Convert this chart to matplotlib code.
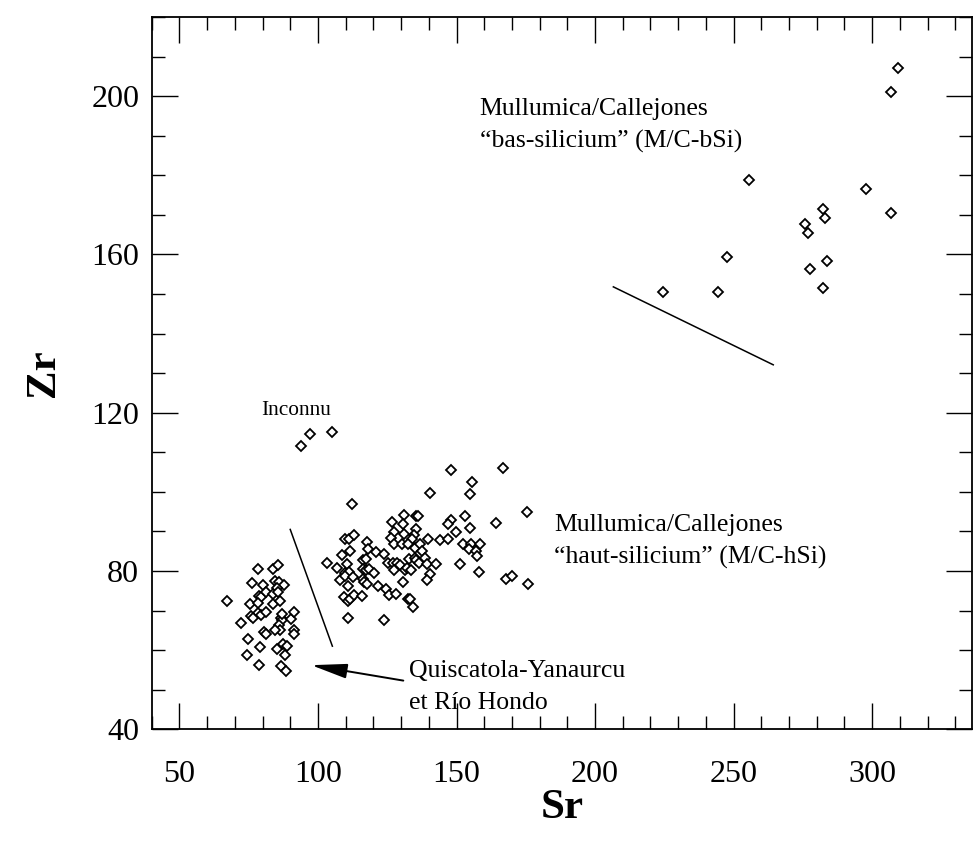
import matplotlib.pyplot as plt
from matplotlib.ticker import MultipleLocator

plt.rcParams['font.family'] = ['Liberation Serif', 'DejaVu Serif']

# Quiscatola-Yanaurcu et Rio Hondo
qy_sr = [78.4, 83.9, 85.5, 76.2, 80.2, 84.5, 86.0, 87.9, 85.1, 78.8, 79.5, 81.1,
         83.9, 85.5, 67.2, 75.3, 78.3, 83.6, 86.4, 78.5, 79.3, 81.1, 76.0, 76.4,
         86.5, 86.9, 87.0, 90.3, 91.4, 72.4, 85.8, 86.4, 84.6, 80.5, 81.1, 91.4,
         91.4, 74.9, 79.1, 87.4, 89.0, 85.3, 74.4, 88.0, 78.6, 86.7, 88.4]
qy_zr = [80.6, 80.6, 81.4, 77.0, 76.4, 77.4, 77.1, 76.4, 75.7, 73.8, 73.4, 74.7,
         74.3, 74.6, 72.3, 71.6, 71.9, 71.6, 72.4, 69.4, 68.8, 69.7, 68.5, 68.0,
         68.1, 67.7, 69.2, 67.9, 69.7, 66.9, 66.3, 65.2, 65.0, 64.6, 64.0, 65.2,
         64.2, 62.9, 60.8, 61.5, 61.1, 60.3, 58.8, 58.8, 56.2, 55.9, 54.8]

# Mullumica/Callejones haut-silicium
hsi_sr = [148.0, 166.8, 155.6, 140.3, 154.7, 112.4, 175.4, 164.4, 131.2, 135.4,
          136.2, 126.8, 130.7, 148.1, 147.0, 153.2, 154.7, 149.9, 135.4, 127.4,
          131.2, 134.8, 126.4, 134.1, 139.8, 144.0, 147.0, 109.8, 111.3, 112.9,
          111.4, 108.6, 117.7, 118.2, 121.1, 124.0, 127.6, 130.2, 132.6, 135.0,
          136.8, 137.4, 152.2, 155.2, 158.6, 154.6, 157.0, 157.3, 103.3, 106.9,
          110.5, 116.3, 117.5, 125.3, 127.0, 128.6, 129.7, 133.0, 134.9, 135.4,
          136.3, 138.7, 139.2, 142.6, 151.4, 109.6, 111.2, 108.0, 109.6, 112.5,
          116.3, 117.5, 118.3, 120.1, 127.4, 131.5, 132.0, 133.5, 140.3, 158.1,
          111.0, 116.3, 116.5, 117.7, 121.6, 124.4, 125.8, 128.2, 130.7, 139.3,
          167.7, 170.1, 175.9, 109.4, 111.0, 111.4, 112.9, 115.8, 132.5, 133.1,
          134.2, 111.0, 124.0]
hsi_zr = [105.6, 105.9, 102.5, 99.8, 99.5, 96.9, 94.9, 92.2, 94.2, 93.8,
          93.8, 92.5, 91.9, 92.9, 91.9, 93.8, 90.8, 89.8, 90.5, 89.8,
          89.4, 89.2, 88.4, 88.2, 88.2, 87.8, 88.1, 88.1, 88.1, 89.1,
          85.1, 84.0, 87.2, 85.5, 84.7, 84.4, 86.7, 86.7, 86.7, 85.8,
          86.7, 85.0, 86.7, 86.7, 86.7, 85.5, 85.0, 83.7, 82.1, 80.8,
          81.8, 82.8, 83.1, 82.0, 81.9, 82.0, 81.4, 83.0, 83.4, 82.7,
          81.9, 83.4, 81.7, 81.7, 81.7, 79.6, 79.7, 77.7, 78.7, 78.4,
          80.4, 80.3, 80.4, 79.6, 80.2, 80.2, 80.7, 80.3, 79.3, 79.7,
          76.3, 78.0, 77.3, 76.6, 76.3, 75.4, 73.9, 74.3, 77.3, 77.6,
          78.1, 78.7, 76.6, 73.5, 72.3, 72.9, 74.0, 73.6, 72.9, 72.9,
          71.0, 68.2, 67.6]

# Mullumica/Callejones bas-silicium
bsi_sr = [255.7, 297.6, 282.2, 306.7, 282.8, 275.9, 276.9, 247.6, 283.7, 277.4,
          282.2, 224.5, 244.2, 309.3, 306.9]
bsi_zr = [178.9, 176.6, 171.5, 170.5, 169.1, 167.8, 165.4, 159.4, 158.4, 156.3,
          151.6, 150.6, 150.6, 207.1, 201.0]

# Inconnu
unk_sr = [93.9, 97.3, 105.2]
unk_zr = [111.7, 114.7, 115.2]

fig = plt.figure(figsize=(9.73, 8.48), dpi=100)
ax = fig.add_axes([0.1559, 0.14, 0.843, 0.84])

for sr, zr in [(qy_sr, qy_zr), (hsi_sr, hsi_zr), (bsi_sr, bsi_zr), (unk_sr, unk_zr)]:
    ax.plot(sr, zr, 'D', ms=4.7, mfc='white', mec='black', mew=1.3, ls='none')

# separation lines
ax.plot([90.0, 105.2], [90.5, 61.0], color='black', lw=1.1)
ax.plot([206.6, 264.3], [151.8, 132.1], color='black', lw=1.1)

ax.annotate('', xy=(97.6, 56.2), xytext=(130.8, 52.3),
            arrowprops=dict(arrowstyle='-|>,head_length=2.2,head_width=0.45',
                            color='black', lw=1.4, shrinkA=0, shrinkB=0))

fs = 18.5
ax.text(158.3, 195.2, 'Mullumica/Callejones', fontsize=fs)
ax.text(158.3, 187.1, '\u201cbas-silicium\u201d (M/C-bSi)', fontsize=fs)
ax.text(185.3, 90.0, 'Mullumica/Callejones', fontsize=fs)
ax.text(185.3, 81.9, '\u201chaut-silicium\u201d (M/C-hSi)', fontsize=fs)
ax.text(79.6, 119.5, 'Inconnu', fontsize=15.4)
ax.text(133.0, 53.2, 'Quiscatola-Yanaurcu', fontsize=fs)
ax.text(133.0, 45.1, 'et R\u00edo Hondo', fontsize=fs)

ax.set_xlim(40, 336)
ax.set_ylim(40, 220)
ax.xaxis.set_major_locator(MultipleLocator(50))
ax.xaxis.set_minor_locator(MultipleLocator(10))
ax.yaxis.set_major_locator(MultipleLocator(40))
ax.yaxis.set_minor_locator(MultipleLocator(10))
ax.tick_params(which='both', direction='in', top=True, right=True, width=1.0)
ax.tick_params(which='major', length=19)
ax.tick_params(which='minor', length=9.5)
ax.tick_params(axis='x', which='major', labelsize=23, pad=22)
ax.tick_params(axis='y', which='major', labelsize=23, pad=9)
for s in ax.spines.values():
    s.set_linewidth(1.3)

ax.set_xlabel('Sr', fontsize=31, fontweight='bold', labelpad=0)
ax.set_ylabel('Zr', fontsize=31, fontweight='bold', labelpad=20)

plt.savefig('out.png', dpi=100)
